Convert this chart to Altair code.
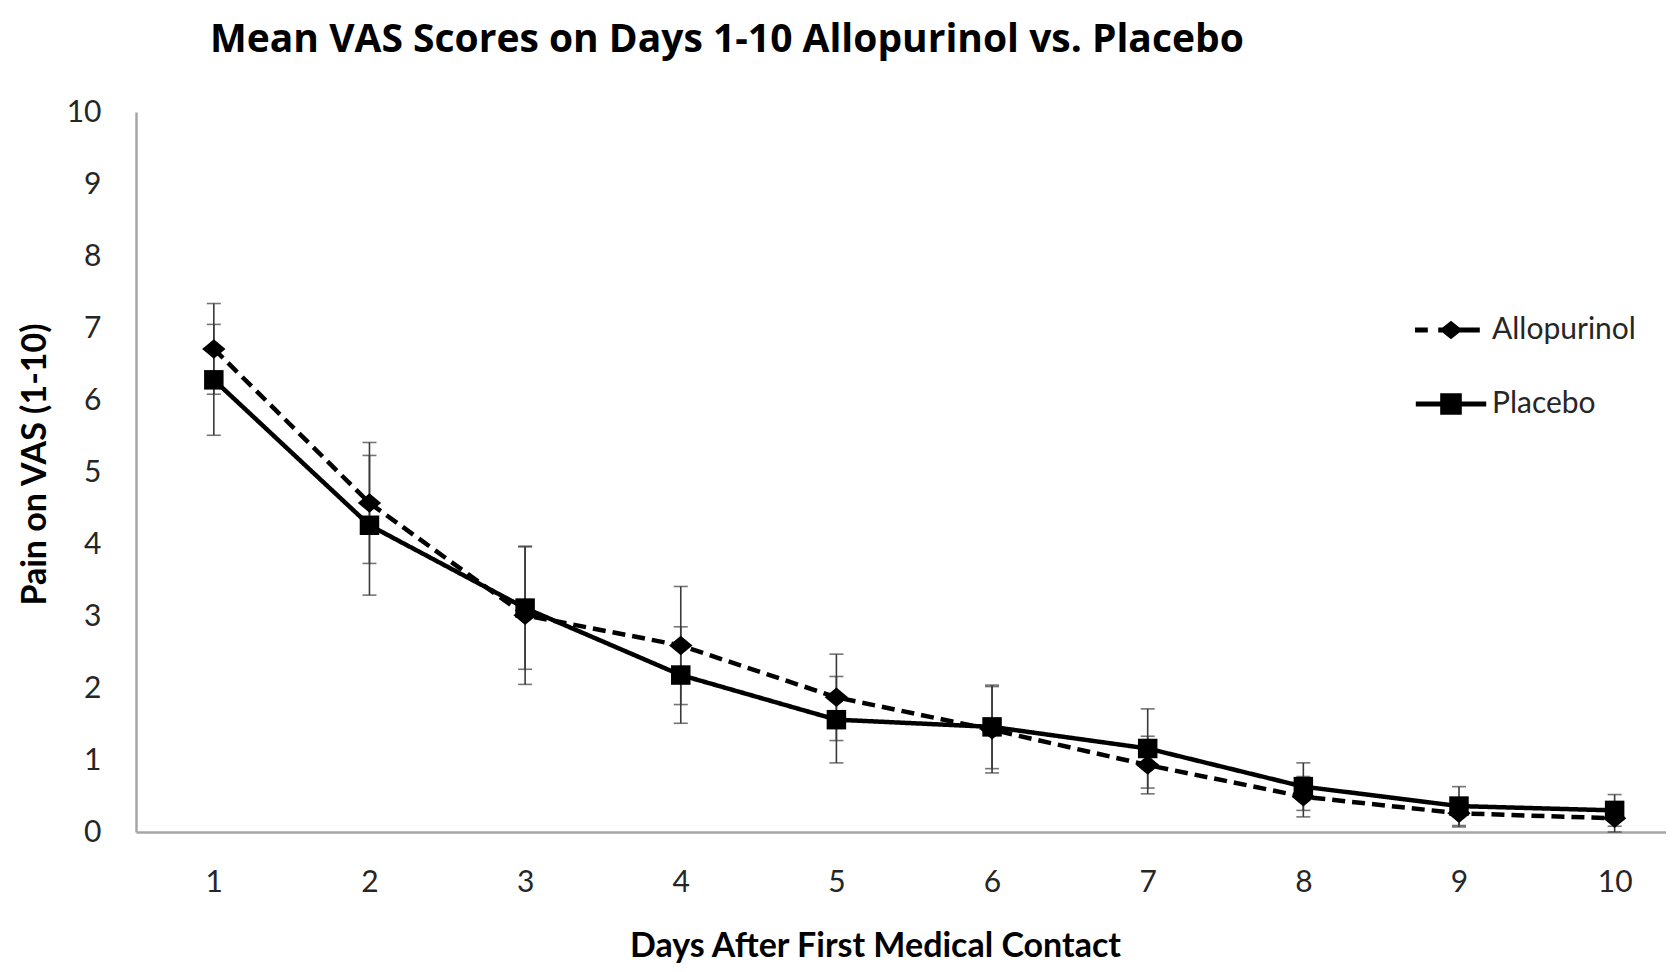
import altair as alt
import pandas as pd

# ---- data ----
days = [1, 2, 3, 4, 5, 6, 7, 8, 9, 10]
series_names = ["Allopurinol", "Placebo"]
allo_mean = [6.71, 4.57, 3.01, 2.59, 1.87, 1.42, 0.93, 0.49, 0.26, 0.19]
allo_err = [0.63, 0.84, 0.96, 0.82, 0.60, 0.60, 0.40, 0.28, 0.19, 0.19]
placebo_mean = [6.28, 4.26, 3.11, 2.18, 1.56, 1.46, 1.16, 0.63, 0.36, 0.30]
placebo_err = [0.77, 0.97, 0.85, 0.67, 0.60, 0.58, 0.55, 0.33, 0.27, 0.22]
y_ticks = [0, 1, 2, 3, 4, 5, 6, 7, 8, 9, 10]

rows = []
for name, means, errs in [("Allopurinol", allo_mean, allo_err), ("Placebo", placebo_mean, placebo_err)]:
    for d, m, e in zip(days, means, errs):
        rows.append({"day": d, "series": name, "mean": m, "lo": max(m - e, 0), "hi": m + e})
df = pd.DataFrame(rows)

FONT = "Lato"
W, H = 1530, 720

x_scale = alt.Scale(domain=[0.5, 10.33], nice=False, zero=False)
y_scale = alt.Scale(domain=[0, 10], nice=False)

x_enc = alt.X("day:Q", scale=x_scale,
              axis=alt.Axis(values=days, format="d", title="Days After First Medical Contact",
                            labelPadding=50, labelBaseline="middle",
                            titleX=739, titleY=114, titleBaseline="middle", titleAlign="center"))
y_enc = alt.Y("mean:Q", scale=y_scale,
              axis=alt.Axis(values=y_ticks, format="d", title="Pain on VAS (1-10)", labelPadding=35,
                            titleX=-101, titleY=352, titleAngle=-90,
                            titleBaseline="middle", titleAlign="center"))

base = alt.Chart(df)

err_rule = base.mark_rule(color="#3a3a3a", strokeWidth=1.6).encode(
    x=alt.X("day:Q", scale=x_scale), y=alt.Y("lo:Q", scale=y_scale), y2="hi:Q")
cap_lo = base.mark_tick(color="#3a3a3a", thickness=1.6, size=14, orient="horizontal").encode(
    x=alt.X("day:Q", scale=x_scale), y=alt.Y("lo:Q", scale=y_scale))
cap_hi = base.mark_tick(color="#3a3a3a", thickness=1.6, size=14, orient="horizontal").encode(
    x=alt.X("day:Q", scale=x_scale), y=alt.Y("hi:Q", scale=y_scale))

lines = base.mark_line(color="black", strokeWidth=4.5).encode(
    x=x_enc, y=y_enc,
    strokeDash=alt.StrokeDash("series:N",
                              scale=alt.Scale(domain=series_names, range=[[13, 7], [1, 0]]),
                              legend=None),
    detail="series:N")

diamond_path = "M-1.2,0L0,-1L1.2,0L0,1Z"
points = base.mark_point(filled=True, color="black", opacity=1, size=380).encode(
    x=alt.X("day:Q", scale=x_scale), y=alt.Y("mean:Q", scale=y_scale),
    shape=alt.Shape("series:N",
                    scale=alt.Scale(domain=series_names, range=[diamond_path, "square"]),
                    legend=None))

# invisible layer whose only job is to provide the line+marker legend
legend_allo = ("M-4.5,-0.3H-2.9V0.3H-4.5Z "
               "M-1.6,-0.3H3.6V0.3H-1.6Z "
               "M-1.45,0L0,-1.15L1.45,0L0,1.15Z")
legend_plac = ("M-4.4,-0.3H4.4V0.3H-4.4Z "
               "M-1.35,-1.35H1.35V1.35H-1.35Z")
legend_layer = base.mark_point(filled=True, color="black", opacity=0, size=10).encode(
    x=alt.X("day:Q", scale=x_scale), y=alt.Y("mean:Q", scale=y_scale),
    shape=alt.Shape("series:N",
                    scale=alt.Scale(domain=series_names, range=[legend_allo, legend_plac]),
                    legend=alt.Legend(title=None, orient="none", legendX=1300, legendY=203,
                                      symbolSize=256, symbolOpacity=1, symbolFillColor="black",
                                      symbolStrokeWidth=0,
                                      labelFont=FONT, labelFontSize=30, labelColor="#262626",
                                      labelOffset=26, rowPadding=44, padding=0)))

chart = alt.layer(err_rule, cap_lo, cap_hi, lines, points, legend_layer).resolve_scale(
    shape="independent"
).properties(
    width=W, height=H,
    autosize=alt.AutoSizeParams(type="none"),
    padding={"left": 128, "top": 104, "right": 0, "bottom": 132},
    title=alt.TitleParams("Mean VAS Scores on Days 1-10 Allopurinol vs. Placebo",
                          font="Open Sans", fontSize=39, fontWeight="bold", color="black",
                          anchor="start", dx=192, offset=18, baseline="middle"),
).configure_view(stroke=None).configure_axis(
    grid=False, ticks=False, tickSize=0,
    domainColor="#a6a6a6", domainWidth=2.5,
    labelFont=FONT, labelFontSize=30, labelColor="#262626",
    titleFont=FONT, titleFontSize=34, titleFontWeight="bold", titleColor="black",
)

chart.save("out.html", embed_options={"renderer": "svg", "actions": False})
